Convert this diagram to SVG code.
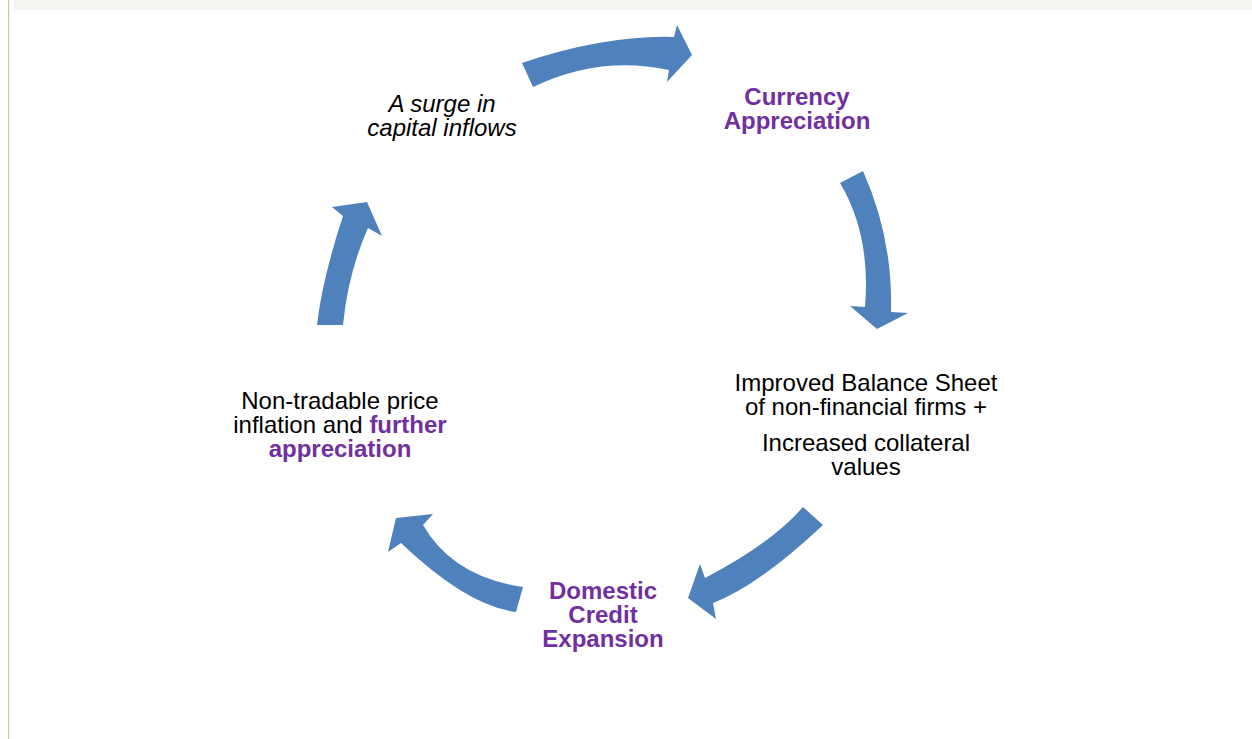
<svg xmlns="http://www.w3.org/2000/svg" width="1252" height="739" viewBox="0 0 1252 739">
<style>
.arrow{fill:#4f81bd;stroke:none}
.t{font-family:"Liberation Sans",Arial,sans-serif;font-size:24px;fill:#000;text-anchor:middle}
.b{font-weight:bold;fill:#7030a0}
.i{font-style:italic}
</style>
<rect x="0" y="0" width="1252" height="739" fill="#ffffff"/>
<rect x="14" y="0" width="1238" height="10" fill="#f5f4ef"/>
<rect x="8" y="0" width="1.2" height="739" fill="#d9c3a0"/>
<g id="connectors">
<path class="arrow" d="M533 87 L522 63 Q605 35 674 37 L677 25 L692 55 L667 82 L669 70 Q600 55 533 87 Z"/>
<path class="arrow" d="M840 183 L863 171 Q893 238 891 312 L908 313 L877 329 L850 306 L865 307 Q871 235 840 183 Z"/>
<path class="arrow" d="M803 507 L823 525 Q758 586 713 603 L716 619 L688 598 L700 564 L705 578 Q772 543 803 507 Z"/>
<path class="arrow" d="M523 587 L516 612 Q467 606 401 543 L388 552 L396 518 L433 514 L423 525 Q453 577 523 587 Z"/>
<path class="arrow" d="M317 325 L343 325 Q348 273 368 228 L382 236 L367 202 L332 207 L343 216 Q322 280 317 325 Z"/>
</g>
<g id="node-surge">
<text class="t i" x="442" y="112">A surge in</text>
<text class="t i" x="442" y="136">capital inflows</text>
</g>
<g id="node-currency">
<text class="t b" x="797" y="105">Currency</text>
<text class="t b" x="797" y="129">Appreciation</text>
</g>
<g id="node-balance">
<text class="t" x="866" y="391">Improved Balance Sheet</text>
<text class="t" x="866" y="415">of non-financial firms +</text>
<text class="t" x="866" y="451">Increased collateral</text>
<text class="t" x="866" y="475">values</text>
</g>
<g id="node-credit">
<text class="t b" x="603" y="599">Domestic</text>
<text class="t b" x="603" y="623">Credit</text>
<text class="t b" x="603" y="647">Expansion</text>
</g>
<g id="node-inflation">
<text class="t" x="340" y="409">Non-tradable price</text>
<text class="t" x="340" y="433">inflation and <tspan class="b">further</tspan></text>
<text class="t b" x="340" y="457">appreciation</text>
</g>
</svg>
